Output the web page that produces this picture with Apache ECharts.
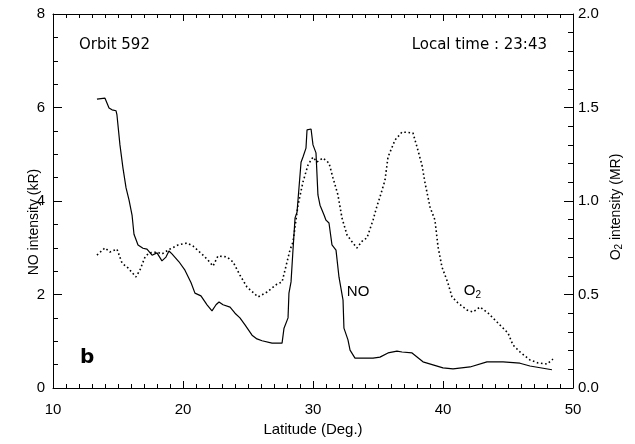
<!DOCTYPE html>
<html>
<head>
<meta charset="utf-8">
<script src="https://cdn.jsdelivr.net/npm/echarts@6/dist/echarts.min.js"></script>
<style>html,body{margin:0;padding:0;background:#fff}#c{width:635px;height:444px}</style>
</head>
<body>
<div id="c"></div>
<script>
// NO intensity (kR) vs latitude
const noLat = [13.38,14.00,14.31,14.54,14.85,14.92,15.15,15.38,15.62,15.85,16.08,16.23,16.31,16.54,16.92,17.23,17.62,18.00,18.15,18.38,18.69,18.92,19.15,19.69,20.15,20.62,20.92,21.38,21.85,22.23,22.54,22.77,23.08,23.62,24.00,24.38,24.77,25.31,25.69,26.08,26.85,27.62,27.77,28.08,28.15,28.31,28.46,28.62,28.77,29.08,29.23,29.46,29.54,29.85,30.00,30.23,30.38,30.54,30.85,31.00,31.23,31.46,31.77,32.00,32.31,32.38,32.69,32.85,33.23,34.62,35.15,35.77,36.46,36.85,37.62,38.46,40.00,40.77,42.08,43.38,44.62,45.92,46.69,48.38];
const noVal = [6.18,6.20,5.99,5.95,5.93,5.84,5.20,4.71,4.28,4.02,3.70,3.29,3.23,3.06,2.99,2.97,2.84,2.89,2.87,2.72,2.80,2.93,2.87,2.70,2.52,2.25,2.03,1.97,1.78,1.65,1.78,1.84,1.78,1.73,1.60,1.50,1.35,1.13,1.05,1.01,0.96,0.96,1.28,1.50,2.03,2.27,2.95,3.64,3.76,4.83,4.94,5.13,5.52,5.54,5.20,5.03,4.13,3.91,3.70,3.59,3.53,3.06,2.95,2.37,1.88,1.28,1.03,0.81,0.64,0.64,0.66,0.75,0.79,0.77,0.75,0.56,0.43,0.41,0.45,0.56,0.56,0.53,0.47,0.39];
// O2 intensity (MR) vs latitude
const o2Lat = [13.38,14.00,14.38,14.92,15.31,15.77,16.38,16.69,17.08,17.38,18.00,18.38,19.00,19.62,20.31,20.77,21.54,21.92,22.31,22.69,23.38,23.85,24.38,24.92,25.77,26.46,27.23,27.62,28.23,28.46,28.85,29.23,29.62,30.00,30.31,30.77,31.23,31.54,31.92,32.23,32.62,33.08,33.38,33.85,34.15,34.62,34.92,35.15,35.54,35.77,36.31,36.85,37.69,38.00,38.38,38.62,39.00,39.38,39.62,39.92,40.38,40.69,41.15,41.85,42.31,42.85,43.46,44.15,44.38,45.00,45.38,45.92,46.69,47.31,48.00,48.46];
const o2Val = [0.711,0.749,0.727,0.743,0.668,0.642,0.594,0.631,0.701,0.722,0.727,0.717,0.743,0.765,0.775,0.759,0.711,0.684,0.652,0.706,0.701,0.674,0.604,0.540,0.487,0.513,0.556,0.567,0.738,0.781,0.979,1.102,1.193,1.235,1.209,1.230,1.203,1.123,1.032,0.909,0.818,0.775,0.749,0.791,0.802,0.898,0.973,1.021,1.112,1.235,1.326,1.369,1.364,1.289,1.193,1.096,0.968,0.898,0.754,0.647,0.561,0.487,0.455,0.417,0.406,0.433,0.401,0.353,0.337,0.294,0.230,0.193,0.150,0.134,0.128,0.155];
const xTicks = [10,20,30,40,50];
const yLeftTicks = [0,2,4,6,8];
const yRightTicks = ['0.0','0.5','1.0','1.5','2.0'];

const F = '"DejaVu Sans", sans-serif';
const A = '"Liberation Sans", Arial, sans-serif';
const chart = echarts.init(document.getElementById('c'), null, {renderer:'canvas'});
const axLine = {show:true, onZero:false, lineStyle:{color:'#000', width:1}};
const txt = {color:'#000', fontFamily:A, fontSize:15};
const txtN = {color:'#000', fontFamily:A, fontSize:14};
const tick = (len)=>({show:true, inside:true, length:len, lineStyle:{color:'#000', width:1}});
const minor = (n,len)=>({show:true, splitNumber:n, length:len, lineStyle:{color:'#000', width:1}});

chart.setOption({
  animation:false,
  backgroundColor:'#fff',
  grid:{left:53, right:62, top:14, bottom:56, containLabel:false},
  xAxis:[
    {type:'value', min:10, max:50, interval:10, position:'bottom',
     name:'Latitude (Deg.)', nameLocation:'middle', nameGap:31, nameTextStyle:txt,
     axisLine:axLine, axisTick:tick(7), minorTick:minor(10,4),
     axisLabel:Object.assign({margin:14, formatter:v=>String(xTicks[xTicks.indexOf(v)])}, txt), splitLine:{show:false}},
    {type:'value', min:10, max:50, interval:10, position:'top',
     axisLine:axLine, axisTick:tick(7), minorTick:minor(10,4),
     axisLabel:{show:false}, splitLine:{show:false}}
  ],
  yAxis:[
    {type:'value', min:0, max:8, interval:2, position:'left',
     name:'NO intensity (kR)', nameLocation:'middle', nameRotate:90, nameGap:12, nameMoveOverlap:false,
     nameTextStyle:Object.assign({padding:[0,42,0,0]}, txtN),
     axisLine:axLine, axisTick:tick(9), minorTick:minor(4,5),
     axisLabel:Object.assign({margin:8, formatter:v=>String(yLeftTicks[yLeftTicks.indexOf(v)])}, txt), splitLine:{show:false}},
    {type:'value', min:0, max:2, interval:0.5, position:'right',
     name:'{n|O}{s|2}{n| intensity (MR)}', nameLocation:'middle', nameRotate:90, nameGap:35, nameMoveOverlap:false,
     nameTextStyle:Object.assign({padding:[0,12,0,0], rich:{n:{fontFamily:A,fontSize:14,color:'#000'}, s:{fontFamily:A,fontSize:10,color:'#000',verticalAlign:'bottom',padding:[6,0,0,0]}}}, txtN),
     axisLine:axLine, axisTick:tick(9), minorTick:minor(5,5),
     axisLabel:Object.assign({margin:5, formatter:v=>yRightTicks[Math.round(v*2)]}, txt), splitLine:{show:false}}
  ],
  series:[
    {type:'line', name:'NO', xAxisIndex:0, yAxisIndex:0, showSymbol:false, symbol:'none',
     data:noLat.map((x,i)=>[x,noVal[i]]), lineStyle:{color:'#000', width:1.2, type:'solid'}},
    {type:'line', name:'O2', xAxisIndex:0, yAxisIndex:1, showSymbol:false, symbol:'none',
     data:o2Lat.map((x,i)=>[x,o2Val[i]]), lineStyle:{color:'#000', width:1.6, type:[1.6,2.6]}}
  ]
});

const p = (x,y,yi)=>chart.convertToPixel({xAxisIndex:0, yAxisIndex:yi}, [x,y]);
const noPos = p(32.6, 2.05, 0);
const o2Pos = p(41.6, 0.52, 1);
chart.setOption({graphic:[
  {type:'text', left:79, top:38, style:{text:'Orbit 592', font:'15px '+F, fill:'#000'}},
  {type:'text', right:88, top:38, style:{text:'Local time : 23:43', font:'15px '+F, fill:'#000'}},
  {type:'text', left:80, top:348, style:{text:'b', font:'bold 20px '+F, fill:'#000'}},
  {type:'text', x:noPos[0], y:noPos[1], style:{text:'NO', font:'15px '+A, fill:'#000', textVerticalAlign:'middle'}},
  {type:'text', x:o2Pos[0], y:o2Pos[1], style:{text:'{n|O}{s|2}', textVerticalAlign:'middle', rich:{n:{font:'15px '+A, fill:'#000'}, s:{font:'10px '+A, fill:'#000', verticalAlign:'bottom', padding:[8,0,0,0]}}}}
]});
</script>
</body>
</html>
